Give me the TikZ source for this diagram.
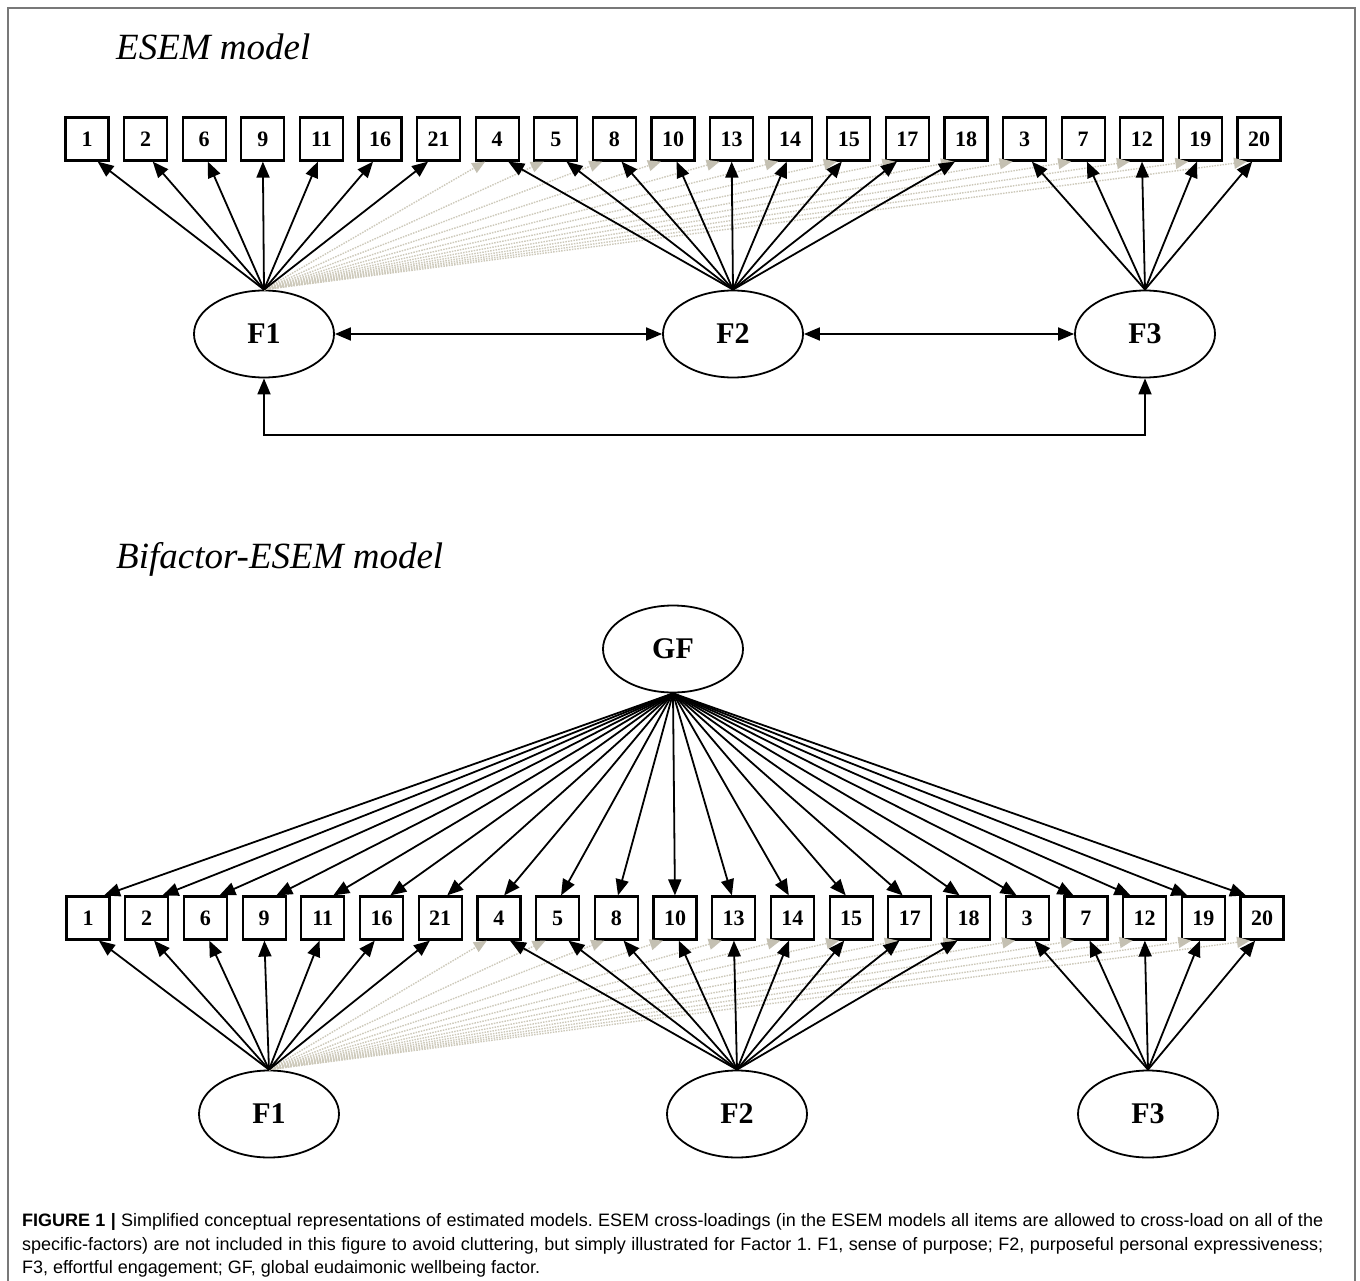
\documentclass[tikz,border=0pt]{standalone}
\usepackage{fontspec}
\setmainfont{Liberation Serif}
\setsansfont{Liberation Sans}
\usetikzlibrary{arrows.meta,shapes.geometric,calc}
\definecolor{crossc}{RGB}{205,201,186}
\definecolor{crossh}{RGB}{196,192,178}
\definecolor{framec}{RGB}{120,120,120}
\tikzset{
  item/.style={draw, line width=2.2pt, minimum width=43pt, minimum height=43pt, inner sep=0pt,
    font=\fontsize{22}{24}\selectfont\bfseries},
  factor/.style={ellipse, draw, line width=1.8pt, minimum width=140pt, minimum height=87pt, inner sep=0pt,
    font=\fontsize{30}{32}\selectfont\bfseries},
  load/.style={line width=1.8pt, -{Triangle[length=16pt,width=13pt]}},
  dbl/.style={line width=1.8pt, {Triangle[length=16pt,width=13pt]}-{Triangle[length=16pt,width=13pt]}},
  cross/.style={draw=crossc, line width=1.4pt, dash pattern=on 1.5pt off 1.2pt,
    -{Triangle[length=13pt,width=11pt,color=crossh,fill=crossh]}},
  ttl/.style={anchor=base west, inner sep=0pt, font=\fontsize{37}{40}\selectfont\itshape},
  capline/.style={anchor=base west, inner sep=0pt, font=\sffamily\fontsize{18}{20}\selectfont\frenchspacing}
}
\begin{document}
\begin{tikzpicture}[x=1pt,y=-1pt]
\useasboundingbox (0,0) rectangle (1360,1281);
\fill[white] (0,0) rectangle (1360,1281);
\draw[framec, line width=1.5pt] (8,1281) -- (8,8) -- (1355,8) -- (1355,1281);

% ---------------- ESEM model ----------------
\node[ttl] (title1) at (116,60) {ESEM model};

\foreach \n [count=\i] in {1,2,6,9,11,16,21,4,5,8,10,13,14,15,17,18,3,7,12,19,20} {
  \node[item] (t\i) at ({87+58.6*(\i-1)},139) {\n};
}
\node[factor] (f1t) at (264,334) {F1};
\node[factor] (f2t) at (733,334) {F2};
\node[factor] (f3t) at (1145,334) {F3};

% cross-loadings (F1)
\foreach \i in {8,...,21} {
  \draw[cross] (f1t.north) -- ([xshift=-12pt]t\i.south);
}
% main loadings
\foreach \i in {1,...,7} {
  \pgfmathsetmacro\off{max(-11,min(11,0.06*(264-(87+58.6*(\i-1)))))}
  \draw[load] (f1t.north) -- ([xshift=\off pt]t\i.south);
}
\foreach \i in {8,...,16} {
  \pgfmathsetmacro\off{max(-11,min(11,0.06*(733-(87+58.6*(\i-1)))))}
  \draw[load] (f2t.north) -- ([xshift=\off pt]t\i.south);
}
\foreach \i in {17,...,21} {
  \pgfmathsetmacro\off{max(-11,min(11,0.06*(1145-(87+58.6*(\i-1)))))}
  \draw[load] (f3t.north) -- ([xshift=\off pt]t\i.south);
}
% correlations
\draw[dbl] (f1t) -- (f2t);
\draw[dbl] (f2t) -- (f3t);
\coordinate (lowy) at (0,435);
\draw[dbl] (f1t.south) -- (f1t.south |- lowy) -| (f3t.south);

% ---------------- Bifactor-ESEM model ----------------
\node[ttl] (title2) at (116,568) {Bifactor-ESEM model};

\node[factor] (gf) at (673,649) {GF};
\foreach \n [count=\i] in {1,2,6,9,11,16,21,4,5,8,10,13,14,15,17,18,3,7,12,19,20} {
  \node[item] (b\i) at ({88+58.7*(\i-1)},918) {\n};
}
\node[factor] (f1b) at (269,1114) {F1};
\node[factor] (f2b) at (737,1114) {F2};
\node[factor] (f3b) at (1148,1114) {F3};

\foreach \i in {1,...,21} {
  \pgfmathsetmacro\off{max(-16,min(16,0.03*(673-(88+58.7*(\i-1)))))}
  \draw[load] (gf.south) -- ([xshift=\off pt]b\i.north);
}
\foreach \i in {8,...,21} {
  \draw[cross] (f1b.north) -- ([xshift=-12pt]b\i.south);
}
\foreach \i in {1,...,7} {
  \pgfmathsetmacro\off{max(-11,min(11,0.06*(269-(88+58.7*(\i-1)))))}
  \draw[load] (f1b.north) -- ([xshift=\off pt]b\i.south);
}
\foreach \i in {8,...,16} {
  \pgfmathsetmacro\off{max(-11,min(11,0.06*(737-(88+58.7*(\i-1)))))}
  \draw[load] (f2b.north) -- ([xshift=\off pt]b\i.south);
}
\foreach \i in {17,...,21} {
  \pgfmathsetmacro\off{max(-11,min(11,0.06*(1148-(88+58.7*(\i-1)))))}
  \draw[load] (f3b.north) -- ([xshift=\off pt]b\i.south);
}

% ---------------- caption ----------------
\node[capline] (cap1) at (22,1226) {\makebox[1301pt][s]{\textbf{FIGURE 1 |} Simplified conceptual representations of estimated models. ESEM cross-loadings (in the ESEM models all items are allowed to cross-load on all of the}};
\node[capline] (cap2) at (22,1250) {\makebox[1301pt][s]{specific-factors) are not included in this figure to avoid cluttering, but simply illustrated for Factor 1. F1, sense of purpose; F2, purposeful personal expressiveness;}};
\node[capline] (cap3) at (22,1273) {F3, effortful engagement; GF, global eudaimonic wellbeing factor.};
\end{tikzpicture}
\end{document}
